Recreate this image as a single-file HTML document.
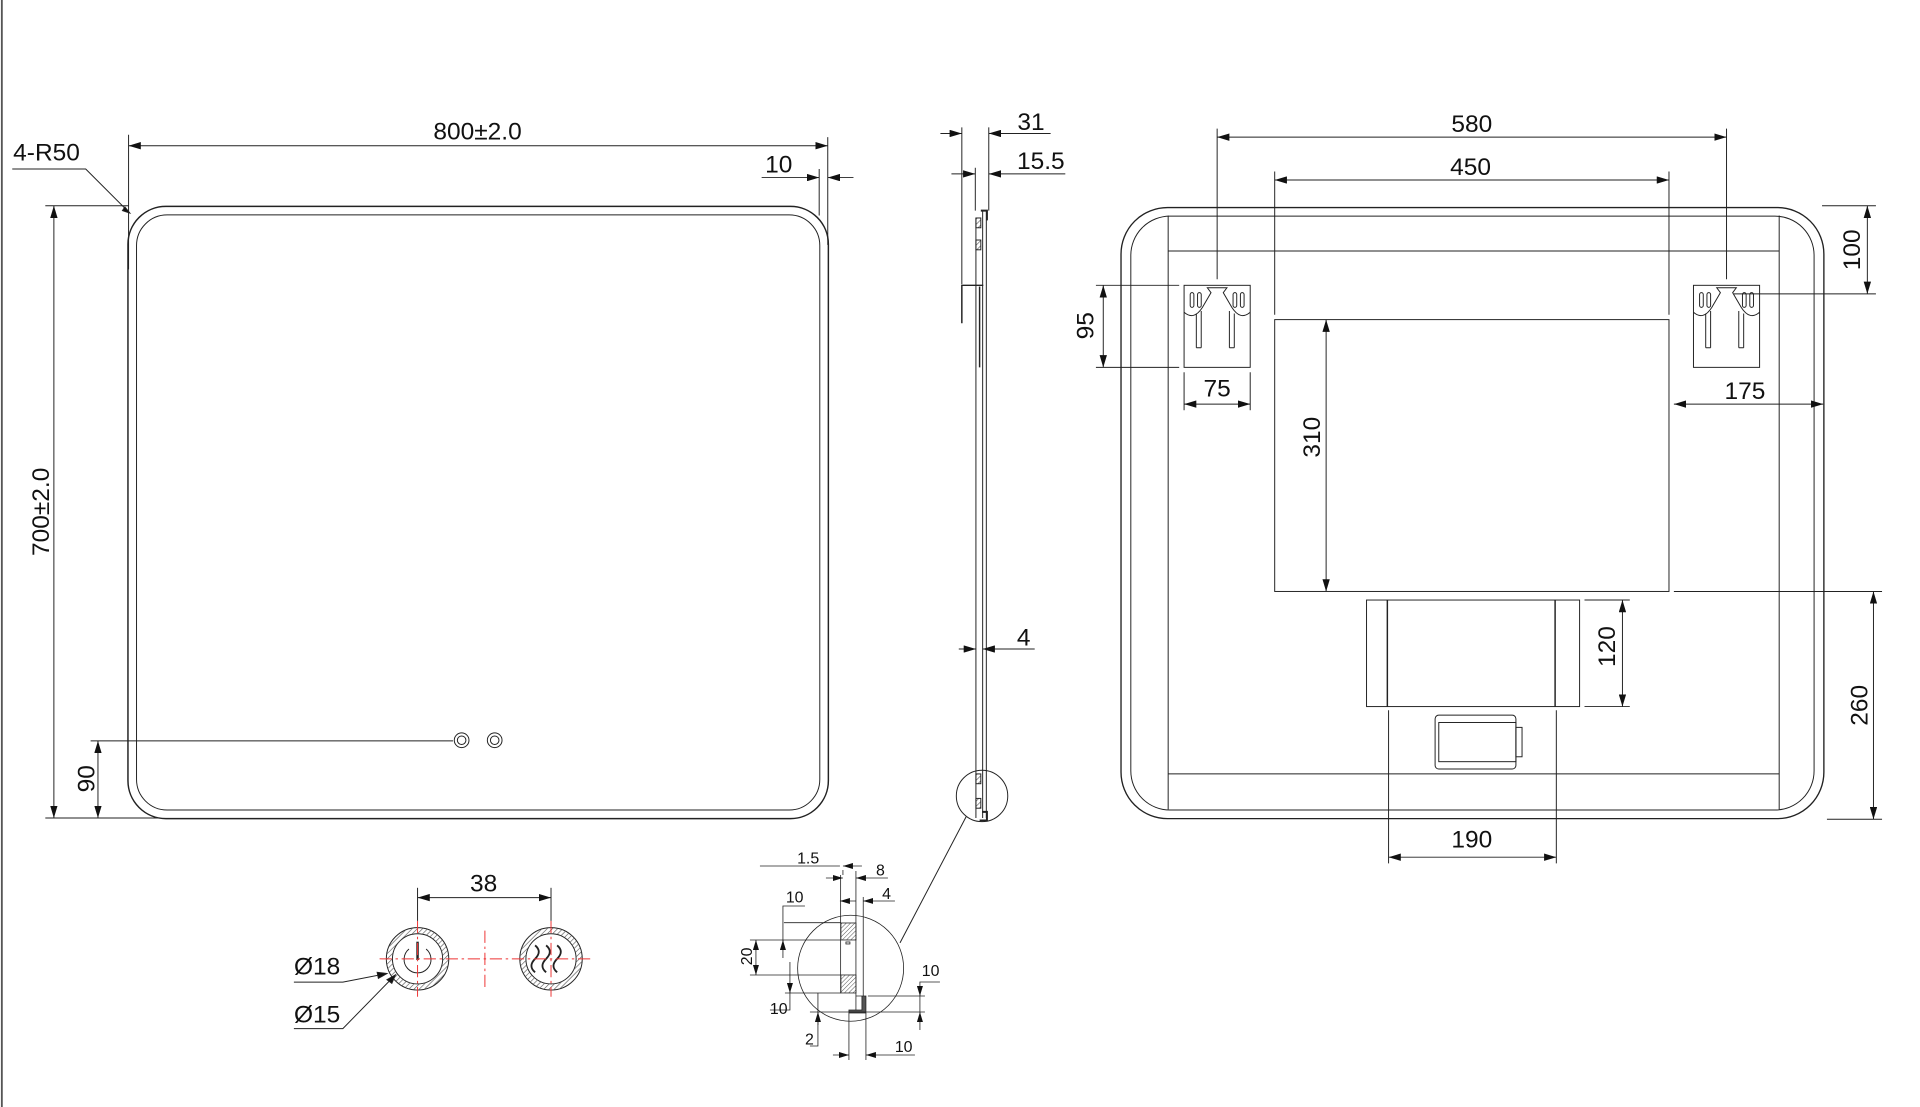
<!DOCTYPE html>
<html><head><meta charset="utf-8"><style>
html,body{margin:0;padding:0;background:#fff;width:1920px;height:1107px;overflow:hidden}
svg{display:block}
text{font-family:"Liberation Sans",sans-serif;fill:#111}
</style></head><body>
<svg width="1920" height="1107" viewBox="0 0 1568 904" preserveAspectRatio="none" xmlns="http://www.w3.org/2000/svg">
<defs>
<marker id="a" viewBox="0 0 10 6" refX="10" refY="3" markerWidth="10" markerHeight="6" orient="auto-start-reverse" markerUnits="userSpaceOnUse"><path d="M0,0 L10,3 L0,6 Z" fill="#111"/></marker>
<pattern id="h" width="3" height="3" patternUnits="userSpaceOnUse" patternTransform="rotate(45)"><line x1="0" y1="0" x2="0" y2="3" stroke="#555" stroke-width="1"/></pattern>
</defs>
<g fill="none" stroke="#222" stroke-width="0.8">
<line x1="1.5" y1="0" x2="1.5" y2="904" stroke="#555" stroke-width="1.5"/>
<!-- FRONT VIEW -->
<rect x="104.5" y="168.5" width="572" height="500" rx="31" stroke-width="1.2"/>
<rect x="111.5" y="175.5" width="558" height="486" rx="25"/>
<line x1="105" y1="110" x2="105" y2="220"/>
<line x1="676" y1="112" x2="676" y2="200"/>
<line x1="669" y1="138" x2="669" y2="176"/>
<line x1="105" y1="119" x2="676" y2="119" marker-start="url(#a)" marker-end="url(#a)"/>
<line x1="622" y1="145" x2="669" y2="145" marker-end="url(#a)"/>
<line x1="697" y1="145" x2="676" y2="145" marker-end="url(#a)"/>
<polyline points="10,138 70,138 106,174"/>
<path d="M102,169 L106,174 L100,172 Z" fill="#111"/>
<line x1="37" y1="168" x2="105" y2="168"/>
<line x1="37" y1="668" x2="130" y2="668"/>
<line x1="44" y1="168" x2="44" y2="668" marker-start="url(#a)" marker-end="url(#a)"/>
<line x1="74" y1="605" x2="370" y2="605"/>
<line x1="80" y1="605" x2="80" y2="668" marker-start="url(#a)" marker-end="url(#a)"/>
<circle cx="377" cy="604.5" r="6"/><circle cx="377" cy="604.5" r="3.5"/>
<circle cx="404" cy="604.5" r="6"/><circle cx="404" cy="604.5" r="3.5"/>
<!-- SIDE VIEW -->
<line x1="785.5" y1="104" x2="785.5" y2="232"/>
<line x1="796.5" y1="137" x2="796.5" y2="172"/>
<line x1="807.5" y1="104" x2="807.5" y2="172"/>
<line x1="768" y1="109" x2="785.5" y2="109" marker-end="url(#a)"/>
<line x1="858" y1="109" x2="807.5" y2="109" marker-end="url(#a)"/>
<line x1="777" y1="142" x2="796.5" y2="142" marker-end="url(#a)"/>
<line x1="870" y1="142" x2="807.5" y2="142" marker-end="url(#a)"/>
<line x1="797" y1="178" x2="797" y2="668"/>
<line x1="802.5" y1="172" x2="802.5" y2="668"/>
<line x1="805.5" y1="172" x2="805.5" y2="668"/>
<polyline points="801,172 806,172 806,180" stroke-width="1.6"/>
<rect x="797" y="178" width="4" height="8" fill="url(#h)"/>
<rect x="797" y="196" width="4" height="8" fill="url(#h)"/>
<polyline points="785.5,264 785.5,233 803,233" stroke-width="1.2"/>
<line x1="800" y1="234" x2="800" y2="300" stroke-width="1.2"/>
<line x1="783" y1="530" x2="797" y2="530" marker-end="url(#a)"/>
<line x1="845" y1="530" x2="802.5" y2="530" marker-end="url(#a)"/>
<rect x="797" y="632" width="4" height="8" fill="url(#h)"/>
<rect x="797" y="652" width="4" height="8" fill="url(#h)"/>
<polyline points="802,663 806,663 806,670 800,670" stroke-width="1.6"/>
<circle cx="802" cy="650" r="21"/>
<line x1="789" y1="667" x2="735" y2="770"/>
<!-- DETAIL (original coords) -->
<g transform="scale(0.8166)">
<circle cx="850.7" cy="968.3" r="53"/>
<line x1="840.7" y1="875" x2="840.7" y2="993"/>
<line x1="843" y1="870" x2="843" y2="875"/>
<line x1="856" y1="871" x2="856" y2="1010"/>
<line x1="863.3" y1="897" x2="863.3" y2="1000"/>
<rect x="841" y="923" width="15" height="17" fill="url(#h)"/>
<rect x="846" y="942" width="4" height="2"/>
<rect x="841" y="975" width="15" height="18" fill="url(#h)"/>
<line x1="784" y1="922.7" x2="841" y2="922.7"/>
<line x1="750" y1="940" x2="841" y2="940"/>
<line x1="750" y1="975" x2="841" y2="975"/>
<line x1="785" y1="993" x2="841" y2="993"/>
<path d="M856,996 L866,996 L866,1013 L849,1013 L849,1010 L862,1010 L862,996 Z" fill="#555"/>
<line x1="868" y1="996" x2="925" y2="996"/>
<line x1="810" y1="1012" x2="925" y2="1012"/>
<line x1="760" y1="866" x2="840" y2="866"/>
<line x1="862" y1="866" x2="843" y2="866" marker-end="url(#a)"/>
<line x1="826" y1="878" x2="843" y2="878" marker-end="url(#a)"/>
<line x1="888" y1="878" x2="856" y2="878" marker-end="url(#a)"/>
<line x1="840" y1="901" x2="856" y2="901" marker-start="url(#a)"/>
<line x1="895" y1="901" x2="863.3" y2="901" marker-end="url(#a)"/>
<polyline points="805,906 783,906 783,958"/>
<line x1="783" y1="945" x2="783" y2="940" marker-end="url(#a)"/>
<line x1="756" y1="940" x2="756" y2="975" marker-start="url(#a)" marker-end="url(#a)"/>
<polyline points="770,1010 790,1010 790,962"/>
<line x1="790" y1="985" x2="790" y2="993" marker-end="url(#a)"/>
<polyline points="810,1046 818,1046 818,993"/>
<line x1="818" y1="1025" x2="818" y2="1012" marker-end="url(#a)"/>
<polyline points="940,982 920,982 920,1030"/>
<line x1="920" y1="990" x2="920" y2="996" marker-end="url(#a)"/>
<line x1="920" y1="1020" x2="920" y2="1012" marker-end="url(#a)"/>
<line x1="849" y1="1013" x2="849" y2="1060"/>
<line x1="866" y1="1013" x2="866" y2="1060"/>
<line x1="833" y1="1055" x2="849" y2="1055" marker-end="url(#a)"/>
<line x1="915" y1="1055" x2="866" y2="1055" marker-end="url(#a)"/>
</g>
<!-- SWITCHES -->
<circle cx="341" cy="783" r="25.5"/><circle cx="341" cy="783" r="20.5"/>
<path d="M341,757.5 A25.5,25.5 0 1 1 340.9,757.5 Z M341,762.5 A20.5,20.5 0 1 0 341.1,762.5 Z" fill="url(#h)" stroke="none"/>
<circle cx="450" cy="783" r="25.5"/><circle cx="450" cy="783" r="20.5"/>
<path d="M450,757.5 A25.5,25.5 0 1 1 449.9,757.5 Z M450,762.5 A20.5,20.5 0 1 0 450.1,762.5 Z" fill="url(#h)" stroke="none"/>
<path d="M334,775 A11,11 0 1 0 348,775"/><line x1="341" y1="769" x2="341" y2="784" stroke-width="2"/>
<path d="M437,772 q6,5 0,11 q-6,6 0,11" stroke-width="1.5"/>
<path d="M446,772 q6,5 0,11 q-6,6 0,11" stroke-width="1.5"/>
<path d="M455,772 q6,5 0,11 q-6,6 0,11" stroke-width="1.5"/>
<g stroke="#e33" stroke-dasharray="10,3,2,3">
<line x1="310" y1="783" x2="482" y2="783"/>
<line x1="341" y1="752" x2="341" y2="814"/>
<line x1="450" y1="752" x2="450" y2="814"/>
<line x1="396" y1="760" x2="396" y2="806"/>
</g>
<line x1="341" y1="725" x2="341" y2="752"/>
<line x1="450" y1="725" x2="450" y2="752"/>
<line x1="341" y1="733" x2="450" y2="733" marker-start="url(#a)" marker-end="url(#a)"/>
<polyline points="240,802 280,802 316,795"/><path d="M316,795 l-8,-1 1,5 Z" fill="#111"/>
<polyline points="240,840 280,840 322,797"/><path d="M323,796 l-7,4 4,3 Z" fill="#111"/>
<!-- BACK VIEW -->
<rect x="915.5" y="169.5" width="574" height="499" rx="38" stroke-width="1.1"/>
<rect x="923.5" y="176.5" width="558" height="485" rx="32"/>
<line x1="954" y1="176" x2="954" y2="661"/>
<line x1="1453" y1="176" x2="1453" y2="661"/>
<line x1="954" y1="205" x2="1453" y2="205"/>
<line x1="954" y1="632" x2="1453" y2="632"/>
<rect x="967" y="233" width="54" height="67"/>
<rect x="1383" y="233" width="54" height="67"/>
<g id="hk">
<path d="M967,255 q8,7 15,-4 l7,-12 l-3,-4 h16 l-3,4 l7,12 q7,11 15,4"/>
<rect x="972" y="239" width="3" height="12" rx="1.5"/><rect x="978" y="239" width="3" height="12" rx="1.5"/>
<rect x="1007" y="239" width="3" height="12" rx="1.5"/><rect x="1013" y="239" width="3" height="12" rx="1.5"/>
<path d="M977,284 v-28 M981,284 v-30 M977,284 h4 M1004,284 v-30 M1008,284 v-28 M1004,284 h4"/>
</g>
<use href="#hk" transform="translate(416,0)"/>
<rect x="1041" y="261" width="322" height="222"/>
<rect x="1116" y="490" width="174" height="87"/>
<line x1="1133" y1="490" x2="1133" y2="577" stroke-width="1.2"/>
<line x1="1270" y1="490" x2="1270" y2="577" stroke-width="1.2"/>
<rect x="1172" y="584" width="66" height="44" rx="3"/>
<rect x="1175" y="590" width="63" height="32"/>
<rect x="1238" y="594" width="5" height="24"/>
<line x1="994" y1="105" x2="994" y2="228"/>
<line x1="1410" y1="105" x2="1410" y2="228"/>
<line x1="994" y1="112" x2="1410" y2="112" marker-start="url(#a)" marker-end="url(#a)"/>
<line x1="1041" y1="140" x2="1041" y2="257"/>
<line x1="1363" y1="140" x2="1363" y2="257"/>
<line x1="1041" y1="147" x2="1363" y2="147" marker-start="url(#a)" marker-end="url(#a)"/>
<line x1="1488" y1="168" x2="1532" y2="168"/>
<line x1="1416" y1="240" x2="1532" y2="240"/>
<line x1="1525" y1="168" x2="1525" y2="240" marker-start="url(#a)" marker-end="url(#a)"/>
<line x1="895" y1="233" x2="963" y2="233"/>
<line x1="895" y1="300" x2="963" y2="300"/>
<line x1="901" y1="233" x2="901" y2="300" marker-start="url(#a)" marker-end="url(#a)"/>
<line x1="967" y1="304" x2="967" y2="335"/>
<line x1="1021" y1="304" x2="1021" y2="335"/>
<line x1="967" y1="330" x2="1021" y2="330" marker-start="url(#a)" marker-end="url(#a)"/>
<line x1="1367" y1="330" x2="1489" y2="330" marker-start="url(#a)" marker-end="url(#a)"/>
<line x1="1083" y1="261" x2="1083" y2="483" marker-start="url(#a)" marker-end="url(#a)"/>
<line x1="1294" y1="490" x2="1331" y2="490"/>
<line x1="1294" y1="577" x2="1331" y2="577"/>
<line x1="1325" y1="490" x2="1325" y2="577" marker-start="url(#a)" marker-end="url(#a)"/>
<line x1="1367" y1="483" x2="1537" y2="483"/>
<line x1="1492" y1="669" x2="1537" y2="669"/>
<line x1="1530" y1="483" x2="1530" y2="669" marker-start="url(#a)" marker-end="url(#a)"/>
<line x1="1134" y1="580" x2="1134" y2="705"/>
<line x1="1271" y1="580" x2="1271" y2="705"/>
<line x1="1134" y1="700" x2="1271" y2="700" marker-start="url(#a)" marker-end="url(#a)"/>
</g>
<g font-size="20">
<text x="390" y="114" text-anchor="middle">800±2.0</text>
<text x="636" y="141" text-anchor="middle">10</text>
<text x="38" y="131" text-anchor="middle">4-R50</text>
<text transform="translate(40,418) rotate(-90)" text-anchor="middle">700±2.0</text>
<text transform="translate(77,636) rotate(-90)" text-anchor="middle">90</text>
<text x="842" y="106" text-anchor="middle">31</text>
<text x="850" y="138" text-anchor="middle">15.5</text>
<text x="836" y="527" text-anchor="middle">4</text>
<text x="395" y="728" text-anchor="middle">38</text>
<text x="259" y="796" text-anchor="middle">Ø18</text>
<text x="259" y="835" text-anchor="middle">Ø15</text>
<text x="1202" y="108" text-anchor="middle">580</text>
<text x="1201" y="143" text-anchor="middle">450</text>
<text transform="translate(1519,204) rotate(-90)" text-anchor="middle">100</text>
<text transform="translate(893,266) rotate(-90)" text-anchor="middle">95</text>
<text x="994" y="324" text-anchor="middle">75</text>
<text x="1425" y="326" text-anchor="middle">175</text>
<text transform="translate(1078,357) rotate(-90)" text-anchor="middle">310</text>
<text transform="translate(1319,528) rotate(-90)" text-anchor="middle">120</text>
<text transform="translate(1525,576) rotate(-90)" text-anchor="middle">260</text>
<text x="1202" y="692" text-anchor="middle">190</text>
</g>
<g font-size="13">
<text x="660" y="705" text-anchor="middle">1.5</text>
<text x="719" y="715" text-anchor="middle">8</text>
<text x="649" y="737" text-anchor="middle">10</text>
<text x="724" y="734" text-anchor="middle">4</text>
<text transform="translate(614,781) rotate(-90)" text-anchor="middle">20</text>
<text x="760" y="797" text-anchor="middle">10</text>
<text x="636" y="828" text-anchor="middle">10</text>
<text x="661" y="853" text-anchor="middle">2</text>
<text x="738" y="859" text-anchor="middle">10</text>
</g>
</svg>
</body></html>
